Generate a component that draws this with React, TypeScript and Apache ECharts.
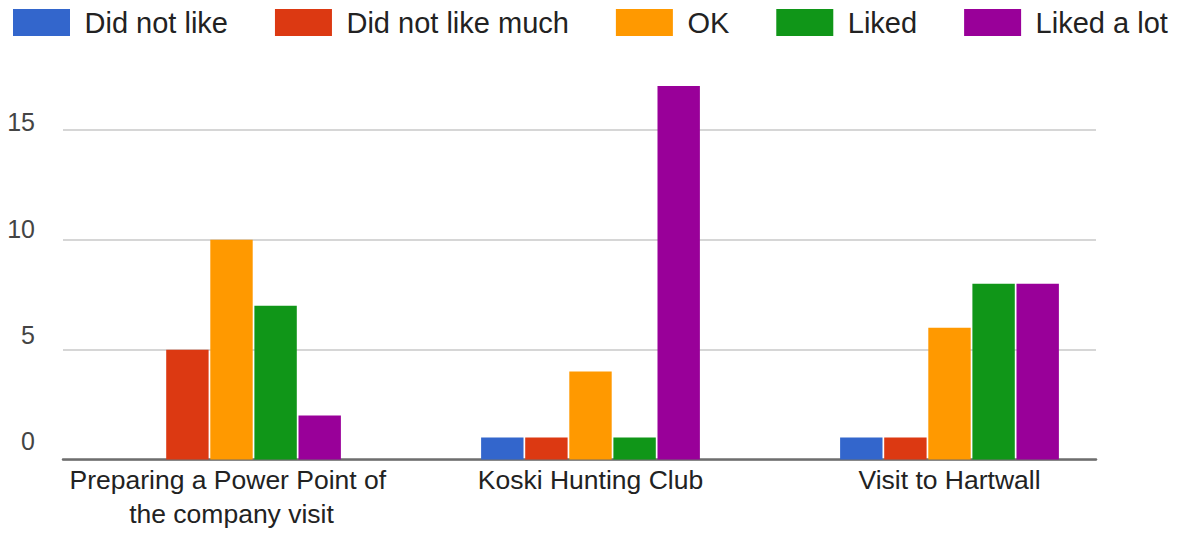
import React, { useEffect, useRef } from "react";
import * as echarts from "echarts";

const categories = [
  "Preparing a Power Point of the company visit",
  "Koski Hunting Club",
  "Visit to Hartwall",
];
const seriesNames = ["Did not like", "Did not like much", "OK", "Liked", "Liked a lot"];
const didNotLike = [0, 1, 1];
const didNotLikeMuch = [5, 1, 1];
const ok = [10, 4, 6];
const liked = [7, 1, 8];
const likedALot = [2, 17, 8];
const colors = ["#3366cc", "#dc3912", "#ff9900", "#109618", "#990099"];
const yTicks = [0, 5, 10, 15];

const FONT = "'Liberation Sans', Arial, sans-serif";

export default function App() {
  const ref = useRef<HTMLDivElement>(null);
  useEffect(() => {
    document.body.style.margin = "0";
    const chart = echarts.init(ref.current!, null, { renderer: "svg" });
    const values = [didNotLike, didNotLikeMuch, ok, liked, likedALot];
    const top = 75;
    const bottom = 75.5;
    chart.setOption({
      animation: false,
      textStyle: { fontFamily: FONT },
      legend: {
        left: 8,
        top: 3,
        itemWidth: 57,
        itemHeight: 27,
        itemGap: 47,
        icon: "rect",
        textStyle: { fontSize: 29, color: "#222", fontFamily: FONT, padding: [0, 0, 0, 9.5] },
        data: seriesNames,
      },
      grid: [
        { left: 52, right: 58, top, bottom },
        { left: 63, right: 91, top, bottom },
        { left: 63, right: 91, top: 69.4, bottom: 94 },
      ],
      xAxis: [
        {
          type: "category",
          gridIndex: 0,
          data: categories,
          axisLine: { show: false },
          axisTick: { show: false },
          axisLabel: {
            fontSize: 26.5,
            color: "#222",
            fontFamily: FONT,
            margin: 3,
            lineHeight: 34,
            width: 345,
            overflow: "break",
            interval: 0,
          },
        },
        {
          type: "category",
          gridIndex: 1,
          data: categories,
          axisLine: { show: true, lineStyle: { color: "#6e6e6e", width: 2.5 } },
          axisTick: { show: false },
          axisLabel: { show: false },
        },
        {
          type: "category",
          gridIndex: 2,
          data: categories,
          show: false,
        },
      ],
      yAxis: [
        { type: "value", gridIndex: 0, min: 0, max: 17.5, show: false, splitLine: { show: false } },
        {
          type: "value",
          gridIndex: 1,
          min: 0,
          max: 17.5,
          interval: 5,
          axisLine: { show: false },
          axisTick: { show: false },
          axisLabel: { show: false },
          splitLine: {
            show: true,
            lineStyle: { color: ["#d6d6d6", "#d6d6d6", "#d6d6d6", "#d6d6d6", "transparent"], width: 2 },
          },
        },
        {
          type: "value",
          gridIndex: 2,
          min: 0,
          max: 17.5,
          interval: 5,
          axisLine: { show: false },
          axisTick: { show: false },
          splitLine: { show: false },
          axisLabel: {
            fontSize: 25,
            color: "#444",
            fontFamily: FONT,
            margin: 28,
            formatter: (v: number) => (yTicks.includes(v) ? String(v) : ""),
          },
        },
      ],
      series: seriesNames.map((name, i) => ({
        name,
        type: "bar",
        xAxisIndex: 0,
        yAxisIndex: 0,
        data: values[i],
        barWidth: 42.4,
        barGap: "4%",
        itemStyle: { color: colors[i] },
      })),
    });
    return () => chart.dispose();
  }, []);
  return <div ref={ref} style={{ width: 1187, height: 535 }} />;
}
